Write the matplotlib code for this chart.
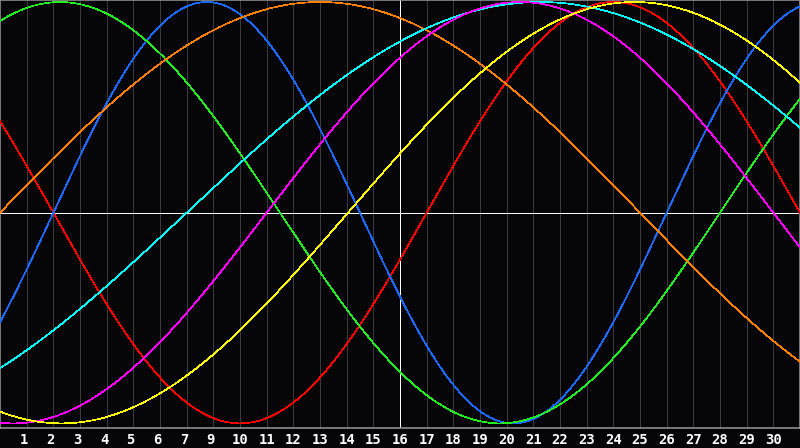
import numpy as np
import matplotlib
matplotlib.use("Agg")
import matplotlib.pyplot as plt

# cycle length (days) and day of upward zero crossing
colors = ["#ff0000", "#1a6aff", "#22ee22", "#ff8000", "#00ffff", "#ff00ff", "#ffff00"]
periods = [28, 23, 33, 48, 53, 38, 43]
zero_days = [16.0, 2.0, 27.0, 0.0, 7.0, 10.0, 13.05]

day_labels = [1, 2, 3, 4, 5, 6, 7, 9, 10, 11, 12, 13, 14, 15, 16, 17, 18, 19,
              20, 21, 22, 23, 24, 25, 26, 27, 28, 29, 30]
n_days = 30

W, H = 800, 448
fig = plt.figure(figsize=(W / 100, H / 100), dpi=100, facecolor="#050508")
ax = fig.add_axes([0, 20 / H, 1, 428 / H])
ax.set_facecolor("#050508")
ax.set_xlim(0, n_days)
ax.set_ylim(-1.0218, 1.0095)

# grid
for d in range(1, n_days):
    ax.axvline(d, color="#3a3a3a", lw=0.72, antialiased=False, zorder=1)
ax.axhline(0, color="white", lw=0.72, antialiased=False, zorder=2)
ax.axvline(n_days / 2, color="white", lw=0.72, antialiased=False, zorder=2)

t = np.linspace(0, n_days, 1600)
for c, p, z in zip(colors, periods, zero_days):
    ax.plot(t, np.sin(2 * np.pi * (t - z) / p), color=c, lw=0.5,
            antialiased=False, zorder=3)

for s in ax.spines.values():
    s.set_color("#8c8c8c")
    s.set_linewidth(1.2)
ax.set_xticks([])
ax.set_yticks([])

for i, lab in enumerate(day_labels):
    x = i + 1 - (0.1 if lab < 10 else 0)
    ax.text(x, -1.0218 - 0.025, str(lab), ha="center", va="top",
            color="white", fontsize=10, fontweight="bold",
            family="DejaVu Sans Mono")

fig.savefig("out.png", dpi=100, facecolor=fig.get_facecolor())
